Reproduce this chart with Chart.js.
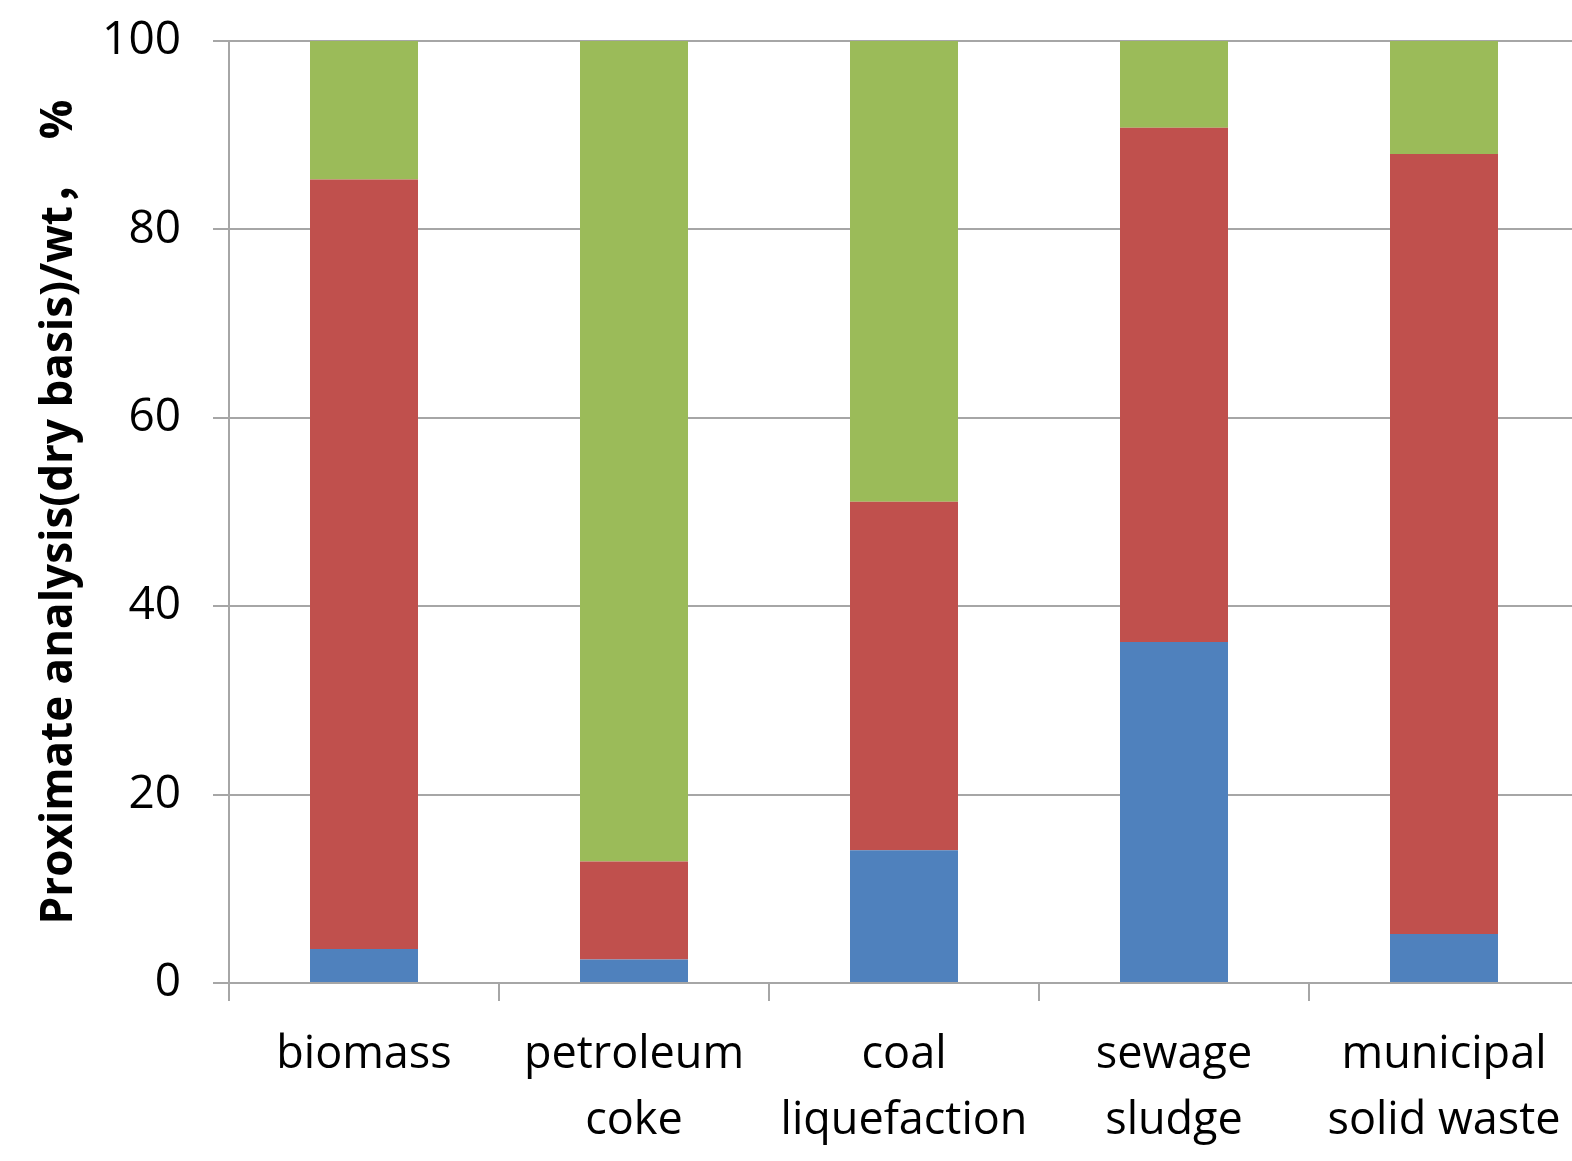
<!DOCTYPE html>
<html>
<head>
<meta charset="utf-8">
<script src="https://cdn.jsdelivr.net/npm/chart.js@4/dist/chart.umd.min.js"></script>
<style>
  html, body { margin: 0; padding: 0; background: #fff; overflow: hidden; }
  #wrap { width: 1579px; height: 1161px; position: relative; }
</style>
</head>
<body>
<div id="wrap"><canvas id="chart"></canvas></div>
<script>
// data (dry basis, wt %)
const categories = [['biomass'], ['petroleum', 'coke'], ['coal', 'liquefaction'], ['sewage', 'sludge'], ['municipal', 'solid waste']];
const ash = [3.6, 2.5, 14.1, 36.2, 5.2];
const volatile = [81.7, 10.4, 37.0, 54.6, 82.8];
const fixedCarbon = [14.7, 87.1, 48.9, 9.2, 12.0];
const yTicks = [0, 20, 40, 60, 80, 100];

const gridGray = '#a6a6a6';
const font = 'Open Sans';

new Chart(document.getElementById('chart'), {
    type: 'bar',
    data: {
        labels: categories,
        datasets: [
            { label: 'Ash', data: ash, backgroundColor: '#4f81bd' },
            { label: 'Volatile', data: volatile, backgroundColor: '#c0504d' },
            { label: 'Fixed carbon', data: fixedCarbon, backgroundColor: '#9bbb59' }
        ]
    },
    options: {
        responsive: true,
        maintainAspectRatio: false,
        animation: false,
        layout: { padding: { top: 41, right: 0, bottom: 0, left: 0 } },
        datasets: { bar: { categoryPercentage: 0.4, barPercentage: 1.0, borderWidth: 0 } },
        plugins: { legend: { display: false }, tooltip: { enabled: false } },
        scales: {
            x: {
                stacked: true,
                grid: { offset: true, drawOnChartArea: false, color: gridGray, lineWidth: 2, tickLength: 18 },
                border: { color: gridGray, width: 2 },
                ticks: { color: '#000', font: { family: font, size: 45, lineHeight: 1.45 }, padding: 22, maxRotation: 0, autoSkip: false },
                afterFit: s => { s.height = 178; s.paddingLeft = 0; s.paddingRight = 0; }
            },
            y: {
                stacked: true,
                min: 0,
                max: 100,
                afterBuildTicks: s => { s.ticks = yTicks.map(v => ({ value: v })); },
                grid: { color: gridGray, lineWidth: 2, tickLength: 16 },
                border: { color: gridGray, width: 2 },
                ticks: { color: '#000', font: { family: font, size: 46 }, padding: 32 },
                title: {
                    display: true,
                    text: 'Proximate analysis(dry basis)/wt，  %',
                    color: '#000',
                    font: { family: '"Open Sans", "Noto Sans CJK SC"', size: 44, weight: 'bold' },
                    padding: { top: 33, bottom: 0 }
                },
                afterFit: s => { s.width = 229; s.paddingTop = 0; s.paddingBottom = 0; }
            }
        }
    }
});
</script>
</body>
</html>
